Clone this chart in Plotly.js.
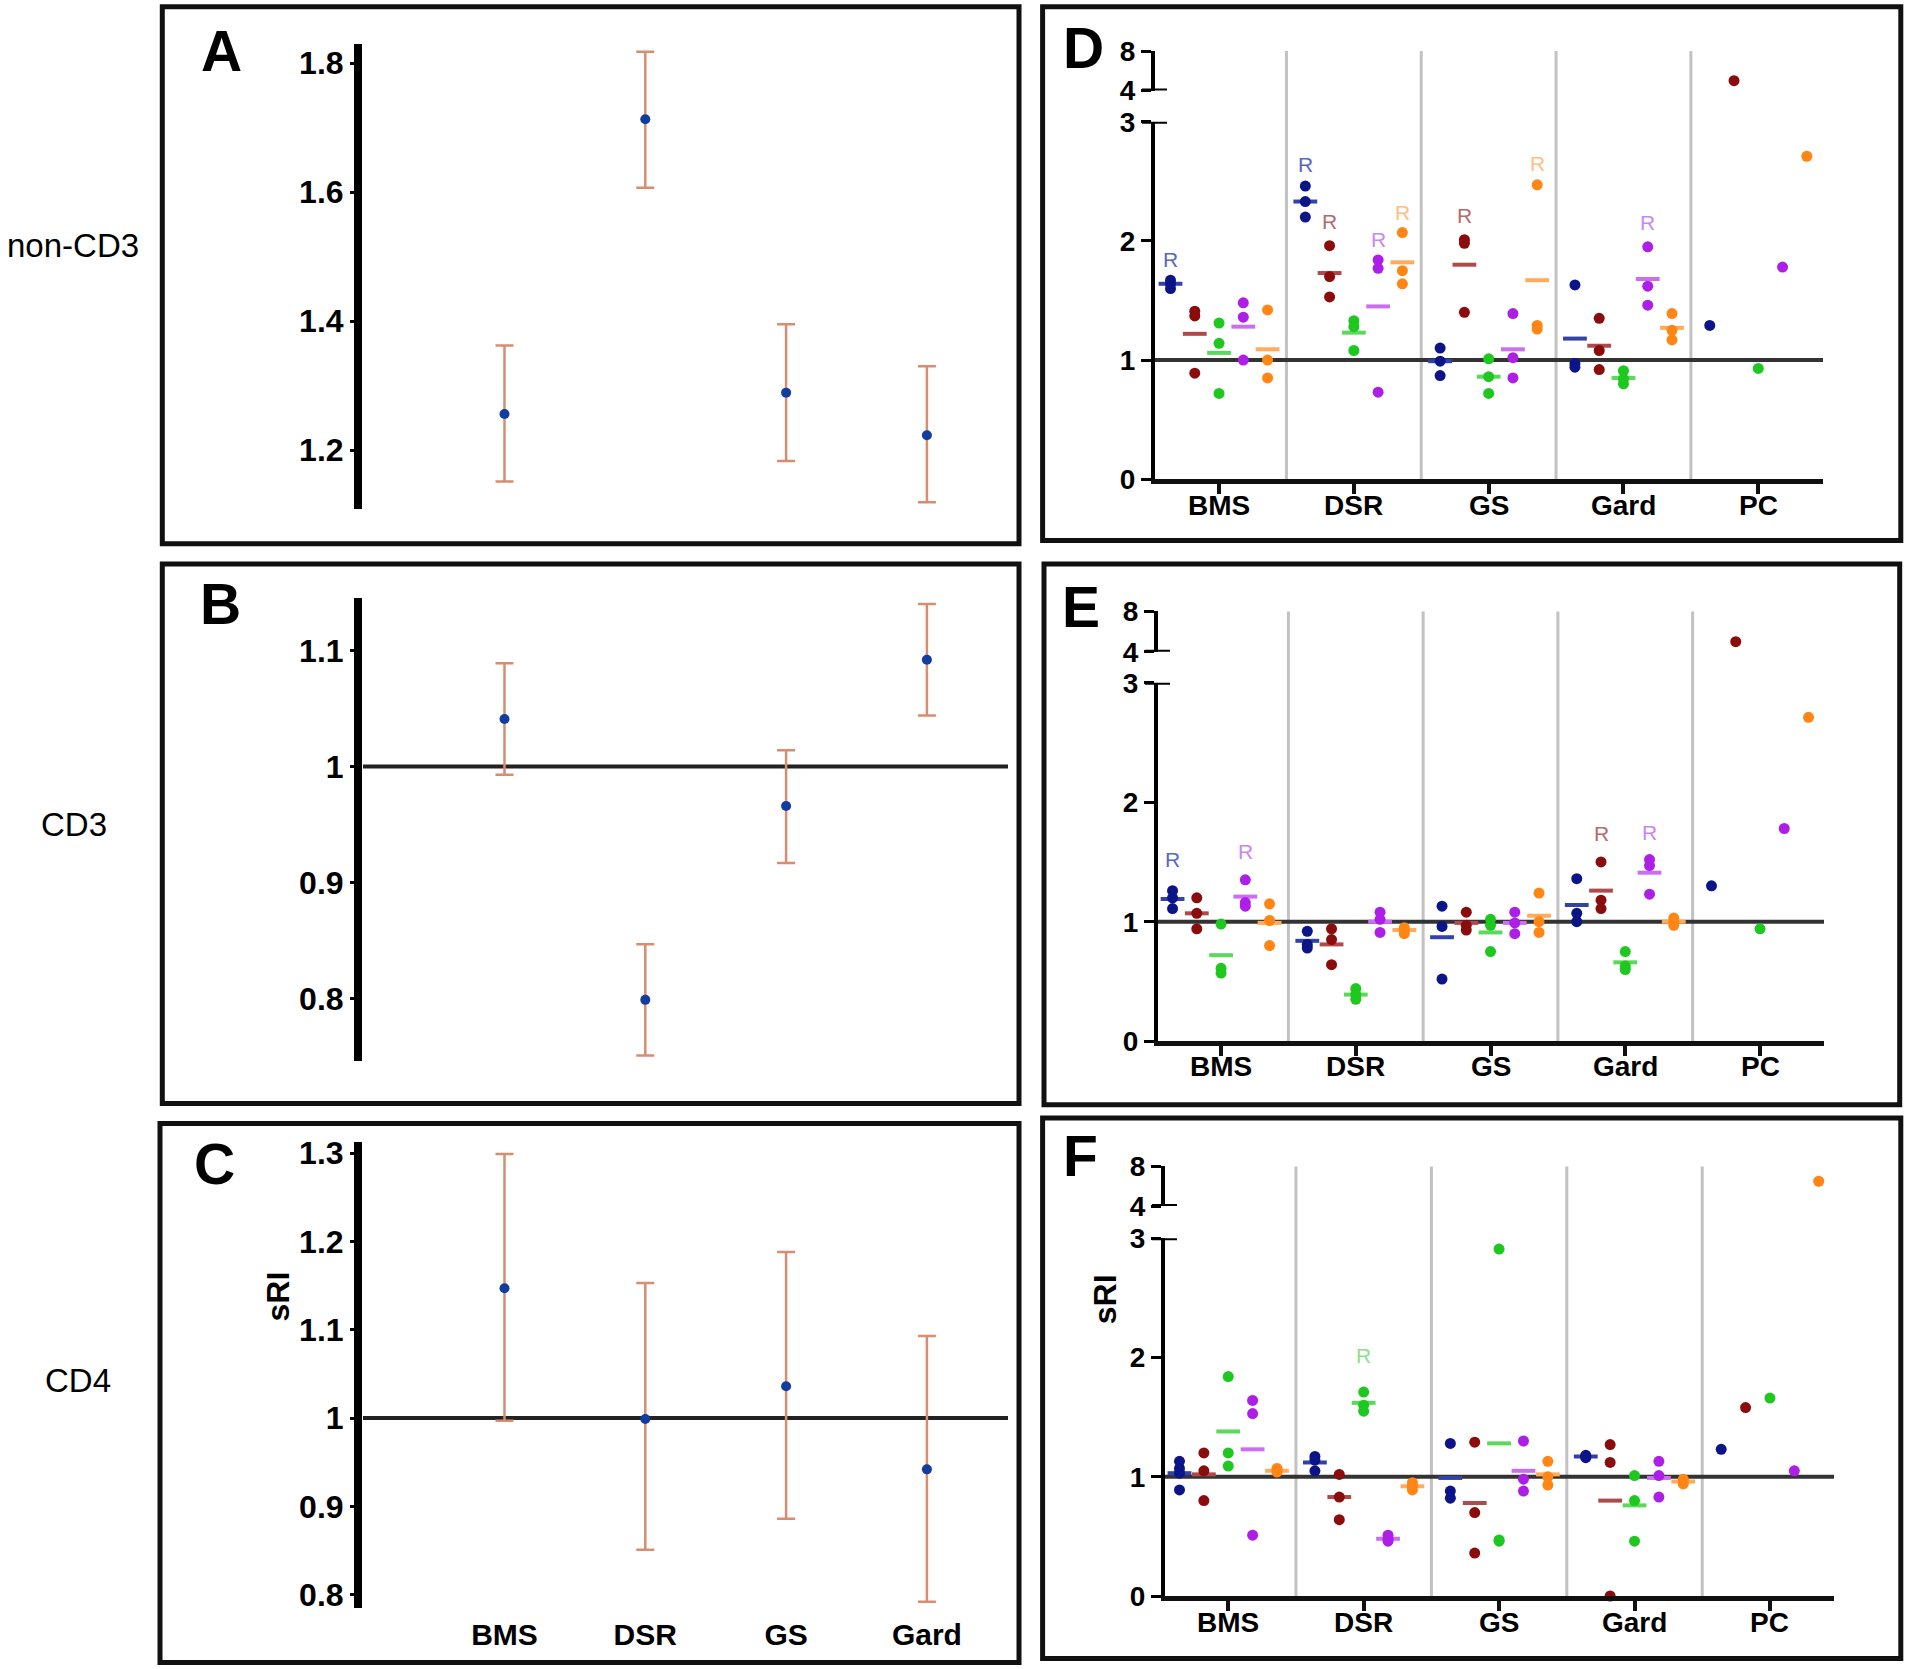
<!DOCTYPE html>
<html><head><meta charset="utf-8">
<script src="https://cdn.plot.ly/plotly-3.0.1.min.js"></script>
<style>html,body{margin:0;padding:0;background:#fff}#chart{width:1907px;height:1669px}</style>
</head><body><div id="chart"></div>
<script>
// ---------------- DATA ----------------
const leftCategories = ['BMS','DSR','GS','Gard'];
const rightCategories = ['BMS','DSR','GS','Gard','PC'];
const groupNames = ['blue','red','green','purple','orange'];
const rowLabels = ['non-CD3','CD3','CD4'];

// Panel A (non-CD3): mean with error bar ends
const A_mean  = [1.256, 1.713, 1.289, 1.223];
const A_upper = [1.362, 1.818, 1.395, 1.330];
const A_lower = [1.151, 1.607, 1.183, 1.119];
const A_ticks = [1.2, 1.4, 1.6, 1.8];
// Panel B (CD3)
const B_mean  = [1.041, 0.799, 0.966, 1.092];
const B_upper = [1.089, 0.847, 1.014, 1.140];
const B_lower = [0.993, 0.751, 0.917, 1.044];
const B_ticks = [0.8, 0.9, 1, 1.1];
// Panel C (CD4)
const C_mean  = [1.147, 0.999, 1.036, 0.942];
const C_upper = [1.299, 1.153, 1.188, 1.093];
const C_lower = [0.997, 0.851, 0.886, 0.792];
const C_ticks = [0.8, 0.9, 1, 1.1, 1.2, 1.3];

// Panel D (non-CD3): individual values per category [BMS, DSR, GS, Gard, PC]
const D_blue   = [[1.60,1.64,1.67],[2.46,2.33,2.20],[1.10,0.99,0.87],[1.63,0.97,0.94],[1.29]];
const D_red    = [[1.41,1.37,0.89],[1.96,1.70,1.53],[2.01,1.98,1.40],[1.35,1.08,0.92],[5.0]];
const D_green  = [[1.31,1.14,0.72],[1.33,1.28,1.08],[1.01,0.86,0.72],[0.91,0.84,0.80],[0.93]];
const D_purple = [[1.48,1.36,1.00],[1.84,1.77,0.73],[1.39,1.02,0.85],[1.95,1.62,1.46],[1.78]];
const D_orange = [[1.42,1.00,0.85],[2.07,1.75,1.64],[2.47,1.29,1.26],[1.39,1.25,1.17],[2.71]];
const D_blue_mean   = [1.64, 2.33, 0.99, 1.18, null];
const D_red_mean    = [1.22, 1.73, 1.80, 1.12, null];
const D_green_mean  = [1.06, 1.23, 0.86, 0.85, null];
const D_purple_mean = [1.28, 1.45, 1.09, 1.68, null];
const D_orange_mean = [1.09, 1.82, 1.67, 1.27, null];
const D_R = [['BMS','blue',1.84],['DSR','blue',2.64],['DSR','red',2.16],['DSR','purple',2.01],['DSR','orange',2.24],['GS','red',2.21],['GS','orange',2.65],['Gard','purple',2.15]];

// Panel E (CD3)
const E_blue   = [[1.26,1.20,1.11],[0.92,0.81,0.78],[1.13,0.96,0.52],[1.36,1.07,1.00],[1.30]];
const E_red    = [[1.20,1.07,0.94],[0.94,0.85,0.64],[1.08,0.97,0.93],[1.50,1.18,1.11],[5.0]];
const E_green  = [[0.98,0.61,0.57],[0.44,0.39,0.35],[1.02,0.97,0.75],[0.75,0.63,0.60],[0.94]];
const E_purple = [[1.35,1.16,1.13],[1.08,1.02,0.91],[1.08,0.99,0.90],[1.52,1.47,1.23],[1.78]];
const E_orange = [[1.15,1.01,0.80],[0.95,0.93,0.90],[1.24,1.00,0.91],[1.03,1.00,0.97],[2.71]];
const E_blue_mean   = [1.19, 0.84, 0.87, 1.14, null];
const E_red_mean    = [1.07, 0.81, 0.99, 1.26, null];
const E_green_mean  = [0.72, 0.39, 0.91, 0.66, null];
const E_purple_mean = [1.21, 1.00, 0.99, 1.41, null];
const E_orange_mean = [0.99, 0.93, 1.05, 1.00, null];
const E_R = [['BMS','blue',1.52],['BMS','purple',1.59],['Gard','red',1.74],['Gard','purple',1.75]];

// Panel F (CD4)
const F_blue   = [[1.13,1.07,1.03,0.89],[1.17,1.14,1.05],[1.28,0.88,0.82],[1.18,1.17,1.16],[1.23]];
const F_red    = [[1.20,1.05,0.80],[1.02,0.83,0.64],[1.29,0.70,0.36],[1.27,1.12,0.00],[1.58]];
const F_green  = [[1.84,1.20,1.09],[1.71,1.60,1.55],[2.91,0.47,0.46],[1.01,0.80,0.46],[1.66]];
const F_purple = [[1.64,1.53,0.51],[0.51,0.48,0.46],[1.30,0.98,0.88],[1.13,1.01,0.83],[1.05]];
const F_orange = [[1.07,1.05,1.04],[0.95,0.92,0.89],[1.13,1.00,0.93],[0.98,0.96,0.94],[6.5]];
const F_blue_mean   = [1.03, 1.12, 0.99, 1.17, null];
const F_red_mean    = [1.02, 0.83, 0.78, 0.80, null];
const F_green_mean  = [1.38, 1.62, 1.28, 0.76, null];
const F_purple_mean = [1.23, 0.48, 1.05, 0.99, null];
const F_orange_mean = [1.05, 0.92, 1.02, 0.96, null];
const F_R = [['DSR','green',2.02]];

const lowerTicks = [0,1,2,3];
const upperTicks = [4,8];

// ---------------- STYLE / LAYOUT ----------------
const W = 1907, H = 1669;
const PX = p => p / W;
const PY = p => 1 - p / H;
const FONT = '"Liberation Sans", Arial, Helvetica, sans-serif';
const OFF = [-0.36, -0.18, 0, 0.18, 0.36];
const ptColors   = ['#0b1587','#8b0c0c','#1ec81e','#ad1fe6','#ff8514'];
const meanColors = ['#3342a8','#b04a4a','#5cd85c','#cc6ef2','#ffab5c'];
const rColors    = ['#5a68bd','#b56b6b','#8ee08e','#c987f2','#ffbf80'];

const axName = id => (id[0] === 'x' ? 'xaxis' : 'yaxis') + id.slice(1);
const traces = [];
const shapes = [];
const annotations = [];
const layout = {
  width: W, height: H, margin: {l:0, r:0, t:0, b:0},
  paper_bgcolor: '#ffffff', plot_bgcolor: 'rgba(0,0,0,0)',
  showlegend: false, font: {family: FONT, color: '#000'},
};

// Left panels A, B, C
const leftPanels = [
  {x:'x',  y:'y',  mean:A_mean, up:A_upper, lo:A_lower, dom:[43.9,508.7],   range:[1.109,1.830], ticks:A_ticks, refLine:false, labels:false},
  {x:'x2', y:'y2', mean:B_mean, up:B_upper, lo:B_lower, dom:[598.2,1061.4], range:[0.746,1.145], ticks:B_ticks, refLine:true,  labels:false},
  {x:'x3', y:'y3', mean:C_mean, up:C_upper, lo:C_lower, dom:[1141.7,1608],  range:[0.785,1.313], ticks:C_ticks, refLine:true,  labels:true},
];
leftPanels.forEach(p => {
  traces.push({
    type:'scatter', mode:'markers', xaxis:p.x, yaxis:p.y, cliponaxis:false,
    x: leftCategories.map((c,i) => i), y: p.mean,
    marker:{color:'#123da0', size:10},
    error_y:{type:'data', symmetric:false,
      array: p.up.map((u,i) => u - p.mean[i]),
      arrayminus: p.lo.map((l,i) => p.mean[i] - l),
      color:'#d88d70', thickness:2.5, width:9}
  });
  layout[axName(p.x)] = {
    domain:[PX(362), PX(1008)], range:[-1.012, 3.576], anchor:p.y,
    showgrid:false, zeroline:false, showline:false, ticks:'',
    showticklabels:p.labels, tickvals:[0,1,2,3], ticktext:leftCategories,
    tickfont:{size:30, weight:'bold', family:FONT}, ticklabelstandoff:6
  };
  layout[axName(p.y)] = {
    domain:[PY(p.dom[1]), PY(p.dom[0])], range:p.range, anchor:p.x,
    showgrid:false, zeroline:false, showline:true, linewidth:8, linecolor:'#000',
    ticks:'outside', ticklen:4, tickwidth:3, tickcolor:'#000',
    tickvals:p.ticks, ticktext:p.ticks.map(String),
    tickfont:{size:32, weight:'bold', family:FONT}
  };
  if (p.refLine) shapes.push({type:'line', xref:'paper', yref:p.y, x0:PX(363), x1:PX(1008), y0:1, y1:1, line:{color:'#222', width:4}, layer:'below'});
});

// Right panels D, E, F
const rightPanels = [
  {x:'x4', yl:'y4', yu:'y5', xdom:[1155,1823], range:[-0.475,4.48], low:[121.7,479.2], upp:[51,90.5], labY:505.4,
   data:[D_blue,D_red,D_green,D_purple,D_orange], means:[D_blue_mean,D_red_mean,D_green_mean,D_purple_mean,D_orange_mean], R:D_R},
  {x:'x5', yl:'y6', yu:'y7', xdom:[1158,1824], range:[-0.468,4.475], low:[682.7,1041.2], upp:[611.4,651.8], labY:1066,
   data:[E_blue,E_red,E_green,E_purple,E_orange], means:[E_blue_mean,E_red_mean,E_green_mean,E_purple_mean,E_orange_mean], R:E_R},
  {x:'x6', yl:'y8', yu:'y9', xdom:[1165,1834], range:[-0.467,4.473], low:[1238.3,1596], upp:[1166.4,1206], labY:1622.7,
   data:[F_blue,F_red,F_green,F_purple,F_orange], means:[F_blue_mean,F_red_mean,F_green_mean,F_purple_mean,F_orange_mean], R:F_R},
];
rightPanels.forEach(p => {
  layout[axName(p.x)] = {
    domain:[PX(p.xdom[0]), PX(p.xdom[1])], range:p.range, anchor:p.yl,
    showgrid:false, zeroline:false, showline:true, linewidth:5, linecolor:'#111',
    ticks:'outside', ticklen:10, tickwidth:4, tickcolor:'#111',
    tickvals:[0,1,2,3,4], showticklabels:false
  };
  // category labels placed on the x axis scale
  rightCategories.forEach((c, ci) => annotations.push({xref:p.x, yref:'paper', x:ci, y:PY(p.labY), text:c, showarrow:false,
    xanchor:'center', yanchor:'middle', font:{size:28, weight:'bold', family:FONT, color:'#000'}}));
  const yStyle = {showgrid:false, zeroline:false, showline:true, linewidth:4, linecolor:'#000',
    ticks:'outside', ticklen:10, tickwidth:3, tickcolor:'#000', anchor:p.x,
    tickfont:{size:28, weight:'bold', family:FONT}};
  layout[axName(p.yl)] = Object.assign({}, yStyle, {domain:[PY(p.low[1]), PY(p.low[0])], range:[0,3], tickvals:lowerTicks, ticktext:lowerTicks.map(String)});
  layout[axName(p.yu)] = Object.assign({}, yStyle, {domain:[PY(p.upp[1]), PY(p.upp[0])], range:[4,8], tickvals:upperTicks, ticktext:upperTicks.map(String)});

  // category separators
  [0.5,1.5,2.5,3.5].forEach(s => shapes.push({type:'line', xref:p.x, yref:'paper', x0:s, x1:s, y0:PY(p.low[1]), y1:PY(p.upp[0]), line:{color:'#c2c2c2', width:3}, layer:'below'}));
  // reference line at 1
  shapes.push({type:'line', xref:'paper', yref:p.yl, x0:PX(p.xdom[0]), x1:PX(p.xdom[1]), y0:1, y1:1, line:{color:'#333', width:4}, layer:'below'});
  // axis break caps
  shapes.push({type:'line', xref:'paper', yref:p.yl, x0:PX(p.xdom[0]-13), x1:PX(p.xdom[0]+12), y0:3, y1:3, line:{color:'#000', width:4}});
  shapes.push({type:'line', xref:'paper', yref:p.yu, x0:PX(p.xdom[0]-13), x1:PX(p.xdom[0]+12), y0:4, y1:4, line:{color:'#000', width:4}});

  groupNames.forEach((g, gi) => {
    const mx = [], my = [];
    p.means[gi].forEach((m, ci) => { if (m !== null) { mx.push(ci + OFF[gi]); my.push(m); } });
    traces.push({type:'scatter', mode:'markers', xaxis:p.x, yaxis:p.yl, x:mx, y:my, cliponaxis:false,
      marker:{symbol:'line-ew', size:17, color:meanColors[gi], line:{color:meanColors[gi], width:4}}});
    const lx = [], ly = [], ux = [], uy = [];
    p.data[gi].forEach((vals, ci) => vals.forEach(v => {
      if (v > 3.5) { ux.push(ci + OFF[gi]); uy.push(v); } else { lx.push(ci + OFF[gi]); ly.push(v); }
    }));
    traces.push({type:'scatter', mode:'markers', xaxis:p.x, yaxis:p.yl, x:lx, y:ly, cliponaxis:false,
      marker:{size:11, color:ptColors[gi]}});
    if (ux.length) traces.push({type:'scatter', mode:'markers', xaxis:p.x, yaxis:p.yu, x:ux, y:uy, cliponaxis:false,
      marker:{size:11, color:ptColors[gi]}});
  });
  p.R.forEach(r => {
    const gi = groupNames.indexOf(r[1]);
    annotations.push({xref:p.x, yref:p.yl, x:rightCategories.indexOf(r[0]) + OFF[gi], y:r[2], text:'R', showarrow:false,
      font:{size:21, color:rColors[gi], family:FONT}});
  });
});

// Panel borders
[[162.3,6.7,1019,543.7],[162.3,564,1019,1103.5],[160,1123.5,1019,1662.5],
 [1042.6,6.7,1900.8,540.5],[1044,564,1899.7,1104.8],[1042.6,1118,1900.8,1658.5]].forEach(b =>
  shapes.push({type:'rect', xref:'paper', yref:'paper', x0:PX(b[0]), x1:PX(b[2]), y0:PY(b[3]), y1:PY(b[1]), line:{color:'#111', width:5}, fillcolor:'rgba(0,0,0,0)'}));

// Panel letters
[['A',221,51],['B',220,604.5],['C',214.5,1163.5],['D',1083.7,48.2],['E',1081,606.7],['F',1080,1156]].forEach(l =>
  annotations.push({xref:'paper', yref:'paper', x:PX(l[1]), y:PY(l[2]), text:l[0], showarrow:false, xanchor:'center', yanchor:'middle',
    font:{size:57, weight:'bold', family:FONT, color:'#000'}}));
// Row labels
[[rowLabels[0],73,245.6],[rowLabels[1],73.5,824],[rowLabels[2],78,1380]].forEach(l =>
  annotations.push({xref:'paper', yref:'paper', x:PX(l[1]), y:PY(l[2]), text:l[0], showarrow:false, xanchor:'center', yanchor:'middle',
    font:{size:33, family:FONT, color:'#000'}}));
// sRI axis titles
[[277.5,1297],[1104.6,1299.6]].forEach(l =>
  annotations.push({xref:'paper', yref:'paper', x:PX(l[0]), y:PY(l[1]), text:'sRI', textangle:-90, showarrow:false, xanchor:'center', yanchor:'middle',
    font:{size:32, weight:'bold', family:FONT, color:'#000'}}));

layout.shapes = shapes;
layout.annotations = annotations;
Plotly.newPlot('chart', traces, layout, {staticPlot:true, displayModeBar:false});
</script>
</body></html>
